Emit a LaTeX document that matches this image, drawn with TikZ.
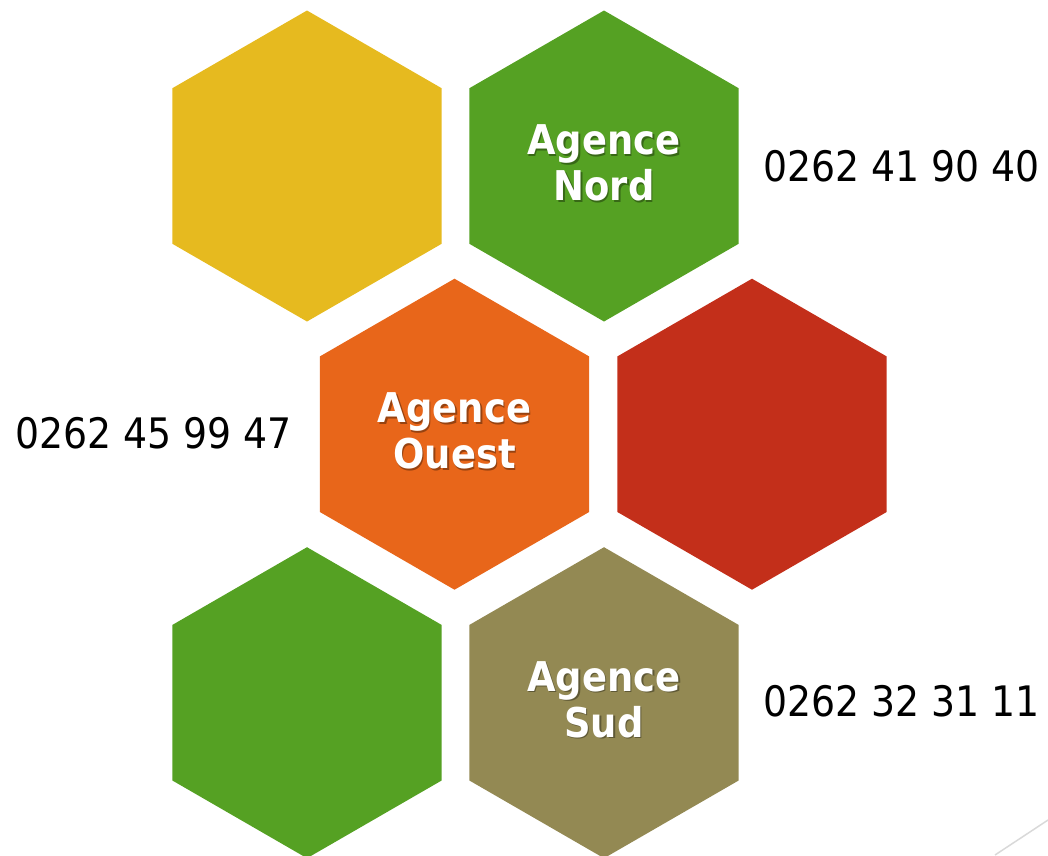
\documentclass[tikz,border=0pt]{standalone}
\usepackage{fontspec}
\newfontfamily\hexfont{DejaVu Sans Condensed}
\usetikzlibrary{calc}
\definecolor{hexyellow}{HTML}{E6BA1F}
\definecolor{hexgreen}{HTML}{55A123}
\definecolor{hexorange}{HTML}{E8661A}
\definecolor{hexred}{HTML}{C32F1A}
\definecolor{hexolive}{HTML}{938953}
\definecolor{cornerline}{HTML}{D9D9D9}
\newcommand{\hexagonat}[4]{% name, cx, cy, colour
  \fill[#4] (#2,#3-155.5) -- (#2+134.7,#3-77.75) -- (#2+134.7,#3+77.75)
     -- (#2,#3+155.5) -- (#2-134.7,#3+77.75) -- (#2-134.7,#3-77.75) -- cycle;
  \coordinate (#1) at (#2,#3);}
\tikzset{
  hexlabel/.style={inner sep=0pt, align=center, text=white,
    font=\hexfont\bfseries\fontsize{41}{46}\selectfont},
  hexshadow/.style={hexlabel, text=black, text opacity=0.35},
  phone/.style={inner sep=0pt, anchor=base west, text=black,
    font=\hexfont\fontsize{42}{46}\selectfont}
}
\begin{document}
\begin{tikzpicture}[x=1pt,y=-1pt]
\useasboundingbox (0,0) rectangle (1048,855);
\hexagonat{hA}{307}{166}{hexyellow}
\hexagonat{hB}{604}{166}{hexgreen}
\hexagonat{hC}{454.5}{434.2}{hexorange}
\hexagonat{hD}{752}{434.2}{hexred}
\hexagonat{hE}{307}{702.7}{hexgreen}
\hexagonat{hF}{604}{702.7}{hexolive}
% labels
\node[hexshadow] (sB) at ($(hB)+(1.5,-1.5)$) {Agence\\Nord};
\node[hexlabel] (lB) at ($(hB)+(0,-3)$) {Agence\\Nord};
\node[hexshadow] (sC) at ($(hC)+(1.5,-1.5)$) {Agence\\Ouest};
\node[hexlabel] (lC) at ($(hC)+(0,-3)$) {Agence\\Ouest};
\node[hexshadow] (sF) at ($(hF)+(1.5,-1.5)$) {Agence\\Sud};
\node[hexlabel] (lF) at ($(hF)+(0,-3)$) {Agence\\Sud};
% phone numbers
\node[phone] (pB) at (763,181) {0262 41 90 40};
\node[phone] (pC) at (15,448) {0262 45 99 47};
\node[phone] (pF) at (763,716) {0262 32 31 11};
% corner line
\coordinate (c1) at (995,855);
\coordinate (c2) at (1048,820);
\draw[cornerline, line width=1.5pt] (c1) -- (c2);
\end{tikzpicture}
\end{document}
